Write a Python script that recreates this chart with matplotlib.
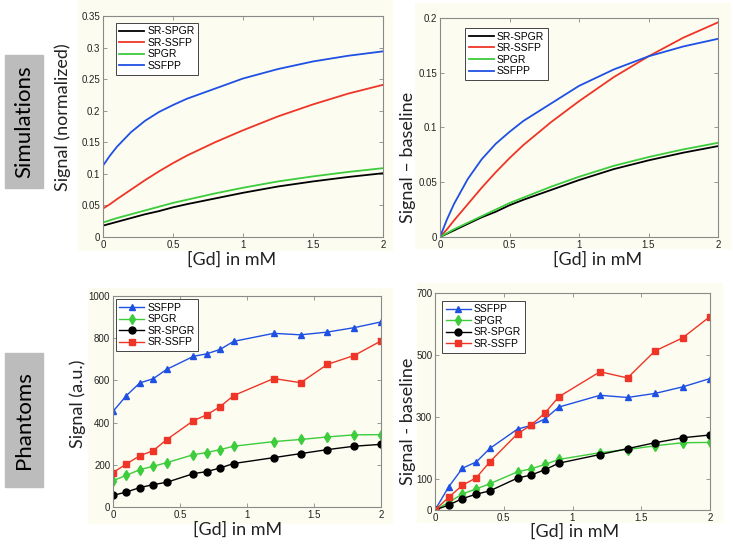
import matplotlib.pyplot as plt
from matplotlib.patches import Rectangle
import numpy as np

# simulated curves
sim_gd = [0, 0.05, 0.1, 0.2, 0.3, 0.4, 0.5, 0.6, 0.8, 1.0, 1.25, 1.5, 1.75, 2.0]
sim_ssfpp = [0.113, 0.129, 0.143, 0.166, 0.184, 0.198, 0.209, 0.219, 0.235, 0.251, 0.266, 0.278, 0.287, 0.294]
sim_sr_ssfp = [0.045, 0.052, 0.060, 0.075, 0.090, 0.104, 0.117, 0.129, 0.150, 0.169, 0.191, 0.210, 0.227, 0.241]
sim_spgr = [0.023, 0.0265, 0.030, 0.036, 0.042, 0.048, 0.054, 0.059, 0.069, 0.078, 0.088, 0.096, 0.103, 0.109]
sim_sr_spgr = [0.018, 0.021, 0.024, 0.030, 0.036, 0.041, 0.047, 0.052, 0.061, 0.070, 0.080, 0.088, 0.095, 0.101]

ph_gd = [0, 0.1, 0.2, 0.3, 0.4, 0.6, 0.7, 0.8, 0.9, 1.2, 1.4, 1.6, 1.8, 2.0]
ph_ssfpp = [453, 528, 588, 608, 652, 714, 726, 747, 785, 823, 816, 829, 850, 877]
ph_spgr = [125, 150, 177, 193, 210, 248, 258, 272, 288, 310, 320, 332, 342, 343]
ph_sr_spgr = [55, 71, 92, 106, 117, 158, 168, 185, 206, 234, 253, 272, 288, 297]
ph_sr_ssfp = [163, 204, 243, 267, 319, 409, 437, 476, 528, 609, 589, 676, 718, 787]

BLUE = '#1f50e4'
RED = '#ee3527'
GREEN = '#3ccc3c'
BLACK = '#000000'
CREAM = '#fcfcf0'
W, H = 733, 545


def px_axes(fig, x0, y0, x1, y1):
    return fig.add_axes([x0 / W, 1 - y1 / H, (x1 - x0) / W, (y1 - y0) / H], zorder=2)


def style(ax, yticks, ylabels):
    ax.set_facecolor(CREAM)
    ax.set_xlim(0, 2)
    ax.set_xticks([0, 0.5, 1, 1.5, 2])
    ax.set_xticklabels(['0', '0.5', '1', '1.5', '2'])
    ax.set_yticks(yticks)
    ax.set_yticklabels(ylabels)
    ax.tick_params(direction='in', length=3, width=0.6, color='#888888',
                   labelsize=7, labelcolor='#222222', top=True, right=True, pad=2)
    for lab in ax.get_xticklabels() + ax.get_yticklabels():
        lab.set_family('Liberation Sans')
    for s in ax.spines.values():
        s.set_color('#8a8a8a')
        s.set_linewidth(0.8)


def legend(ax, loc, anchor):
    leg = ax.legend(loc=loc, bbox_to_anchor=anchor, fancybox=False, framealpha=1,
                    prop={'family': 'Liberation Sans', 'size': 7.5},
                    handlelength=2.4, handletextpad=0.3, borderpad=0.35,
                    labelspacing=0.15, borderaxespad=0)
    leg.get_frame().set_edgecolor('#444444')
    leg.get_frame().set_linewidth(0.7)
    leg.get_frame().set_facecolor('white')


def label(fig, x, y, s, rot=0):
    fig.text(x / W, 1 - y / H, s, rotation=rot, ha='center', va='center',
             family='Lato', fontsize=13, color='#222222', zorder=3)


fig = plt.figure(figsize=(W / 100, H / 100), dpi=100)

# cream panels behind each matlab figure
for x0, y0, x1, y1 in [(78, 0, 392, 250), (415, 3, 730, 248),
                       (88, 288, 392, 523), (417, 283, 722, 522)]:
    fig.patches.append(Rectangle((x0 / W, 1 - y1 / H), (x1 - x0) / W, (y1 - y0) / H,
                                 transform=fig.transFigure, color=CREAM, zorder=-1))

sims = [('SR-SPGR', sim_sr_spgr, BLACK), ('SR-SSFP', sim_sr_ssfp, RED),
        ('SPGR', sim_spgr, GREEN), ('SSFPP', sim_ssfpp, BLUE)]

# top left: normalized signal
ax1 = px_axes(fig, 103, 16, 383, 237)
for name, vals, c in sims:
    ax1.plot(sim_gd, vals, color=c, lw=1.3, label=name)
ax1.set_ylim(0, 0.35)
style(ax1, np.arange(0, 0.351, 0.05), ['0', '0.05', '0.1', '0.15', '0.2', '0.25', '0.3', '0.35'])
legend(ax1, 'upper left', (0.045, 0.97))

# top right: minus baseline
ax2 = px_axes(fig, 440, 18, 718, 237)
for name, vals, c in sims:
    v = np.array(vals)
    ax2.plot(sim_gd, v - v[0], color=c, lw=1.3, label=name)
ax2.set_ylim(0, 0.2)
style(ax2, [0, 0.05, 0.1, 0.15, 0.2], ['0', '0.05', '0.1', '0.15', '0.2'])
legend(ax2, 'upper left', (0.09, 0.955))

phs = [('SSFPP', ph_ssfpp, BLUE, '^'), ('SPGR', ph_spgr, GREEN, 'd'),
       ('SR-SPGR', ph_sr_spgr, BLACK, 'o'), ('SR-SSFP', ph_sr_ssfp, RED, 's')]

# bottom left: phantom signal
ax3 = px_axes(fig, 113, 296, 381, 507)
for name, vals, c, m in phs:
    ax3.plot(ph_gd, vals, color=c, lw=1.0, marker=m, ms=5, label=name)
ax3.set_ylim(0, 1000)
style(ax3, [0, 200, 400, 600, 800, 1000], ['0', '200', '400', '600', '800', '1000'])
legend(ax3, 'upper left', (0.01, 0.985))

# bottom right: phantom minus baseline
ax4 = px_axes(fig, 435, 293, 710, 510)
for name, vals, c, m in phs:
    v = np.array(vals)
    ax4.plot(ph_gd, v - v[0], color=c, lw=1.0, marker=m, ms=5, label=name)
ax4.set_ylim(0, 700)
style(ax4, [0, 100, 300, 500, 700], ['0', '100', '300', '500', '700'])
legend(ax4, 'upper left', (0.025, 0.965))

# axis labels
label(fig, 63, 117, 'Signal (normalized)', 90)
label(fig, 232, 260, '[Gd] in mM')
label(fig, 408, 157, 'Signal \u2013 baseline', 90)
label(fig, 598, 260, '[Gd] in mM')
label(fig, 78, 404, 'Signal (a.u.)', 90)
label(fig, 238, 530, '[Gd] in mM')
label(fig, 408, 421, 'Signal - baseline', 90)
label(fig, 575, 532, '[Gd] in mM')

# row tags
for y0, y1, s in [(55, 188, 'Simulations'), (353, 487, 'Phantoms')]:
    fig.patches.append(Rectangle((5 / W, 1 - y1 / H), 38 / W, (y1 - y0) / H,
                                 transform=fig.transFigure, color='#bcbcbc', zorder=-1))
    fig.text(24 / W, 1 - (y0 + y1) / 2 / H, s, rotation=90, ha='center', va='center',
             family='Lato', fontsize=16, color='black', zorder=3)

fig.savefig('out.png', dpi=100)
